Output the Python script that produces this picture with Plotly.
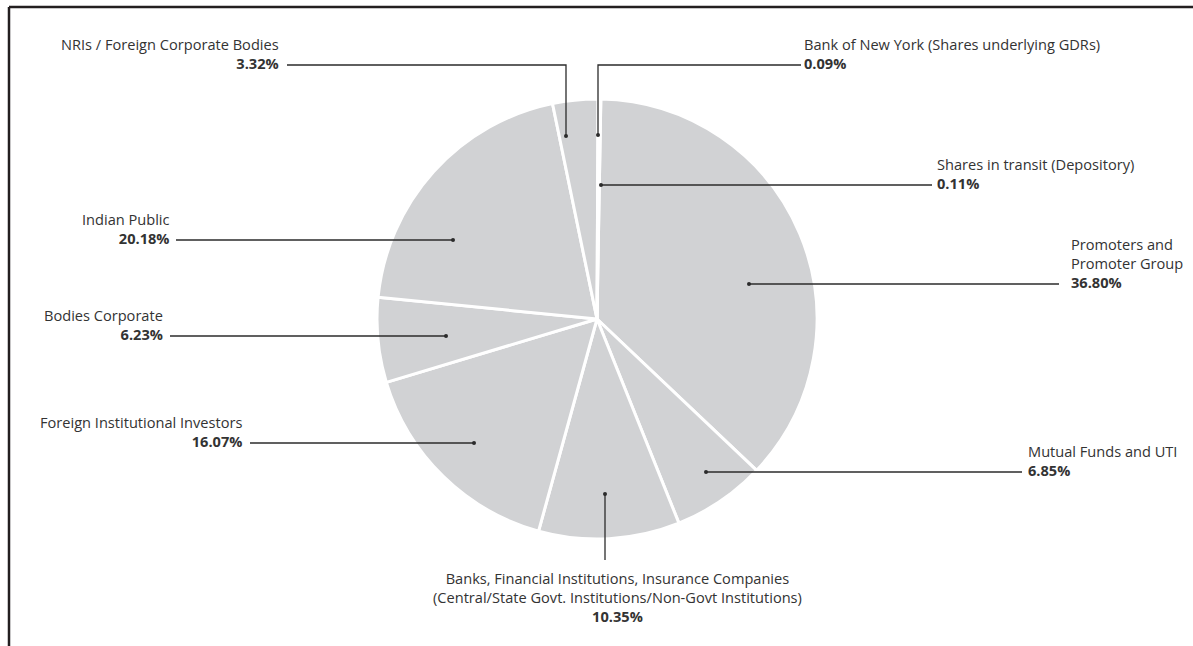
import plotly.graph_objects as go

# ---- data ----
categories = [
    "Promoters and Promoter Group",
    "Mutual Funds and UTI",
    "Banks, Financial Institutions, Insurance Companies (Central/State Govt. Institutions/Non-Govt Institutions)",
    "Foreign Institutional Investors",
    "Bodies Corporate",
    "Indian Public",
    "NRIs / Foreign Corporate Bodies",
    "Bank of New York (Shares underlying GDRs)",
    "Shares in transit (Depository)",
]
values = [36.80, 6.85, 10.35, 16.07, 6.23, 20.18, 3.32, 0.09, 0.11]
display_labels = [
    "Promoters and<br>Promoter Group",
    "Mutual Funds and UTI",
    "Banks, Financial Institutions, Insurance Companies<br>(Central/State Govt. Institutions/Non-Govt Institutions)",
    "Foreign Institutional Investors",
    "Bodies Corporate",
    "Indian Public",
    "NRIs / Foreign Corporate Bodies",
    "Bank of New York (Shares underlying GDRs)",
    "Shares in transit (Depository)",
]

# ---- layout geometry (pixels) ----
W, H = 1193, 646
CX, CY, R = 597, 319, 220
# leader: path points (dot first), text x, text y (of last line), anchor
leaders = [
    dict(path=[(749, 284), (1059, 284)], tx=1069, ty=284, anchor="left"),
    dict(path=[(706, 472), (1022, 472)], tx=1026, ty=472, anchor="left"),
    dict(path=[(605, 494), (605, 560)], tx=617, ty=566, anchor="center"),
    dict(path=[(474, 443), (250, 443)], tx=244, ty=443, anchor="right"),
    dict(path=[(446, 336), (170, 336)], tx=165, ty=336, anchor="right"),
    dict(path=[(453, 240), (176, 240)], tx=172, ty=240, anchor="right"),
    dict(path=[(566, 136), (566, 65), (287, 65)], tx=281, ty=65, anchor="right"),
    dict(path=[(598, 135), (598, 65), (801, 65)], tx=802, ty=65, anchor="left"),
    dict(path=[(601, 185), (932, 185)], tx=935, ty=185, anchor="left"),
]

FONT = "Open Sans"
FS = 14.6
TXT = "#333333"
LINE = "#2b2b2b"

fig = go.Figure()
fig.add_trace(go.Pie(
    labels=categories, values=values, sort=False, direction="clockwise",
    rotation=1,
    marker=dict(colors=["#d1d2d4"] * len(values), line=dict(color="white", width=3)),
    textinfo="none", hoverinfo="label+percent", showlegend=False,
    domain=dict(x=[(CX - R) / W, (CX + R) / W], y=[(H - CY - R) / H, (H - CY + R) / H]),
))
# invisible cartesian trace so the pixel axes exist
fig.add_trace(go.Scatter(x=[0, W], y=[0, H], mode="markers", marker=dict(opacity=0),
                         hoverinfo="skip", showlegend=False))

shapes = []
for ld in leaders:
    pts = ld["path"]
    d = "M " + " L ".join(f"{x},{y}" for x, y in pts)
    shapes.append(dict(type="path", path=d, xref="x", yref="y", layer="above",
                       line=dict(color=LINE, width=1.3)))
    x0, y0 = pts[0]
    shapes.append(dict(type="circle", xref="x", yref="y", layer="above",
                       x0=x0 - 2, x1=x0 + 2, y0=y0 - 2, y1=y0 + 2,
                       fillcolor=LINE, line=dict(width=0)))

annotations = []
for lab, val, ld in zip(display_labels, values, leaders):
    text = f"{lab}<br><b>{val:.2f}%</b>"
    if ld["anchor"] == "center":
        annotations.append(dict(x=ld["tx"], y=ld["ty"], xref="x", yref="y", text=text,
                                showarrow=False, xanchor="center", yanchor="top", align="center",
                                font=dict(family=FONT, size=FS, color=TXT)))
    else:
        annotations.append(dict(x=ld["tx"], y=ld["ty"] + 10, xref="x", yref="y", text=text,
                                showarrow=False, xanchor=ld["anchor"], yanchor="bottom",
                                align=ld["anchor"], font=dict(family=FONT, size=FS, color=TXT)))

shapes += [
    dict(type="line", xref="x", yref="y", x0=9, y0=H + 5, x1=9, y1=7, line=dict(color="#231f20", width=2.5)),
    dict(type="line", xref="x", yref="y", x0=9, y0=7, x1=W + 5, y1=7, line=dict(color="#231f20", width=2.5)),
]

fig.update_layout(
    width=W, height=H, margin=dict(l=0, r=0, t=0, b=0),
    paper_bgcolor="white", plot_bgcolor="rgba(0,0,0,0)",
    xaxis=dict(range=[0, W], visible=False, fixedrange=True),
    yaxis=dict(range=[H, 0], visible=False, fixedrange=True),
    annotations=annotations, shapes=shapes,
    font=dict(family=FONT),
)

fig.write_html("out.html", config={"displayModeBar": False},
               post_script="document.body.style.margin='0';document.body.style.overflow='hidden';")
